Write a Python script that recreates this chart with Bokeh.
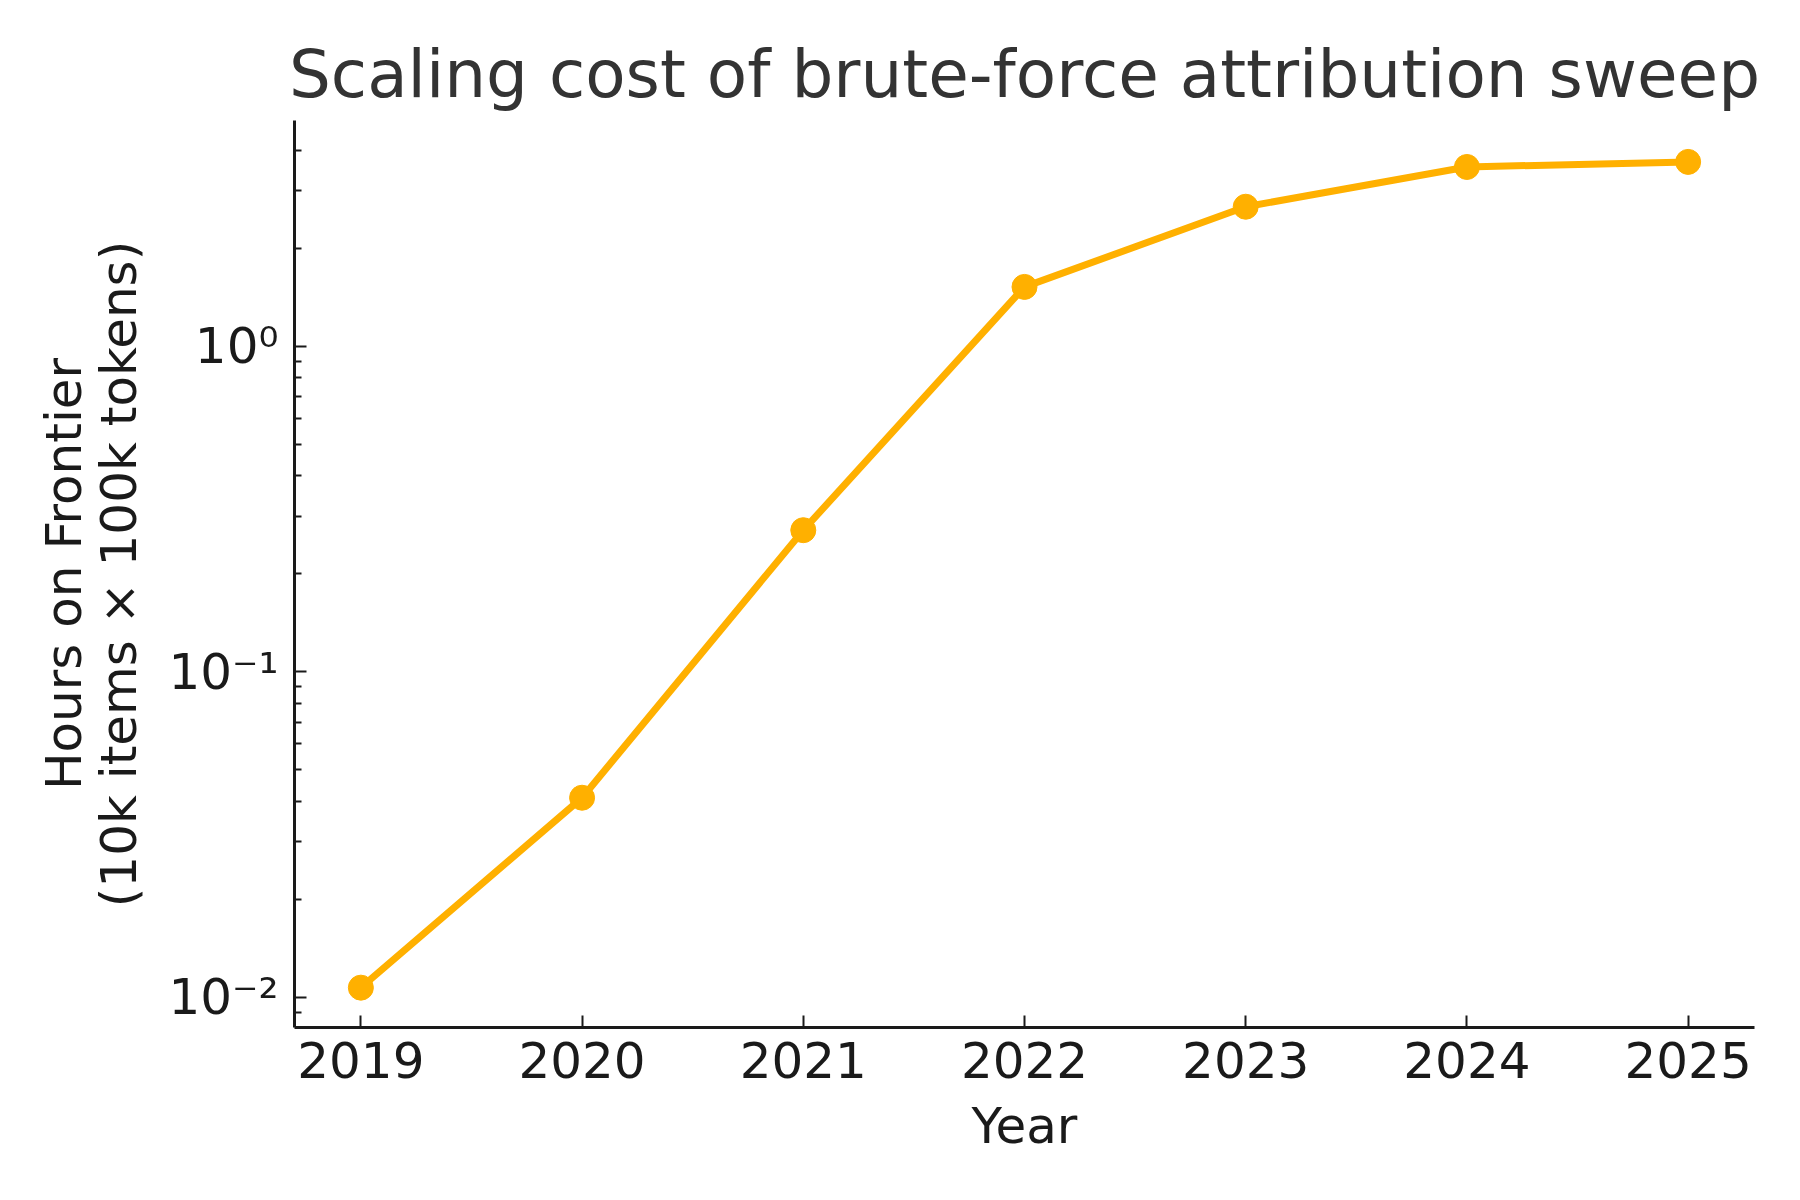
from bokeh.plotting import figure
from bokeh.models import Range1d, FixedTicker, CustomJSTickFormatter, Title
from bokeh.embed import file_html
from bokeh.resources import INLINE

years = [2019, 2020, 2021, 2022, 2023, 2024, 2025]
hours = [0.0107, 0.041, 0.272, 1.52, 2.68, 3.55, 3.68]
major_y = [0.01, 0.1, 1.0]
title_text = "Scaling cost of brute-force attribution sweep"
xlabel = "Year"
ylabel = "Hours on Frontier\n(10k items \u00d7 100k tokens)"

FONT = "DejaVu Sans"
INK = "#1a1a1a"
ORANGE = "#FFB000"

p = figure(width=1780, height=1180, output_backend="svg", toolbar_location=None,
           y_axis_type="log",
           x_range=Range1d(2018.7, 2025.3),
           y_range=Range1d(10 ** -2.093, 10 ** 0.693),
           min_border_left=294, min_border_right=26, min_border_top=120,
           min_border_bottom=153)

p.title = Title(text=title_text, align="center", text_font=FONT,
                text_font_size="66px", text_font_style="normal",
                text_color="#333333", standoff=16)

p.line(years, hours, line_color=ORANGE, line_width=7)
p.scatter(years, hours, size=25, fill_color=ORANGE, line_color=ORANGE)

p.grid.visible = False
p.outline_line_color = None
p.background_fill_color = "white"
p.border_fill_color = "white"

minor = [m * 10.0 ** e for e in (-3, -2, -1, 0) for m in range(2, 10)]
p.yaxis.ticker = FixedTicker(ticks=major_y, minor_ticks=minor)
p.yaxis.formatter = CustomJSTickFormatter(code="""
const e = Math.round(Math.log10(tick));
const sup = {"-":"\u207b","0":"\u2070","1":"\u00b9","2":"\u00b2","3":"\u00b3","4":"\u2074","5":"\u2075","6":"\u2076","7":"\u2077","8":"\u2078","9":"\u2079"};
return "10" + String(e).split("").map(c => sup[c]).join("");
""")
p.xaxis.ticker = FixedTicker(ticks=years, minor_ticks=[])

for ax in (p.xaxis[0], p.yaxis[0]):
    ax.axis_line_color = INK
    ax.axis_line_width = 3
    ax.major_tick_line_color = INK
    ax.minor_tick_line_color = INK
    ax.major_tick_line_width = 2
    ax.minor_tick_line_width = 2
    ax.major_tick_in = 12
    ax.major_tick_out = 0
    ax.minor_tick_in = 7
    ax.minor_tick_out = 0
    ax.major_label_text_font = FONT
    ax.major_label_text_font_size = "50px"
    ax.major_label_text_color = INK
    ax.axis_label_text_font = FONT
    ax.axis_label_text_font_size = "50px"
    ax.axis_label_text_font_style = "normal"
    ax.axis_label_text_color = INK

p.yaxis.axis_label_text_line_height = 0.95
p.xaxis.axis_label = xlabel
p.yaxis.axis_label = ylabel
p.xaxis.major_label_standoff = 14
p.yaxis.major_label_standoff = 16
p.xaxis.axis_label_standoff = 16
p.yaxis.axis_label_standoff = 17

open("out.html", "w").write(file_html(p, INLINE))
